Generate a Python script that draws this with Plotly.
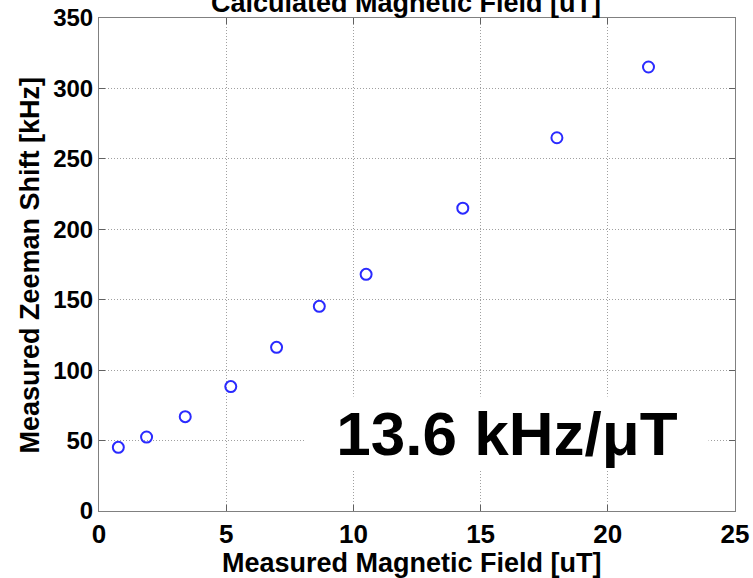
import plotly.graph_objects as go

# Data
field_uT = [0.76, 1.87, 3.39, 5.18, 6.98, 8.66, 10.5, 14.3, 18.0, 21.6]
zeeman_kHz = [45.2, 52.5, 67.0, 88.3, 116.2, 145.3, 168.0, 215.0, 265.0, 315.2]

x_ticks = [0, 5, 10, 15, 20, 25]
y_ticks = [0, 50, 100, 150, 200, 250, 300, 350]

title_text = "Calculated Magnetic Field [uT]"
x_title = "Measured Magnetic Field [uT]"
y_title = "Measured Zeeman Shift [kHz]"
slope_text = "13.6 kHz/μT"

FONT = "Arial, Liberation Sans, Helvetica, sans-serif"

fig = go.Figure()
fig.add_trace(go.Scatter(
    x=field_uT, y=zeeman_kHz, mode="markers",
    marker=dict(symbol="circle-open", size=11, color="#2a2aff",
                line=dict(width=2, color="#2a2aff")),
    showlegend=False, cliponaxis=False,
))

axis_common = dict(
    showline=True, linecolor="#808080", linewidth=1, mirror="ticks",
    ticks="inside", ticklen=6, tickcolor="#606060", tickwidth=1,
    showgrid=True, griddash="1px,2px", gridcolor="#a0a0a0", gridwidth=1,
    zeroline=False, automargin=False,
)

fig.update_xaxes(range=[0, 25], tickvals=x_ticks, ticktext=[str(v) for v in x_ticks],
                 tickfont=dict(family=FONT, size=26, color="black", weight="bold"),
                 **axis_common)
fig.update_yaxes(range=[0, 350], tickvals=y_ticks, ticktext=[str(v) for v in y_ticks],
                 tickfont=dict(family=FONT, size=24, color="black", weight="bold"),
                 **axis_common)

annotations = [
    dict(text=title_text, xref="paper", yref="paper", x=0.482, y=0.996,
         xanchor="center", yanchor="bottom", showarrow=False,
         font=dict(family=FONT, size=27, color="black", weight="bold")),
    dict(text=x_title, xref="paper", yref="paper", x=0.492, y=-0.1055,
         xanchor="center", yanchor="middle", showarrow=False,
         font=dict(family=FONT, size=27, color="black", weight="bold")),
    dict(text=y_title, xref="paper", yref="paper", x=-0.1085, y=0.50,
         xanchor="center", yanchor="middle", showarrow=False, textangle=-90,
         font=dict(family=FONT, size=27, color="black", weight="bold")),
    dict(text=slope_text, xref="paper", yref="paper", x=0.6415, y=0.158,
         xanchor="center", yanchor="middle", showarrow=False,
         bgcolor="white", width=400, height=70,
         font=dict(family=FONT, size=62, color="black", weight="bold")),
]

fig.update_layout(
    width=753, height=578,
    margin=dict(l=99, r=18, t=18, b=67, autoexpand=False),
    plot_bgcolor="white", paper_bgcolor="white",
    annotations=annotations,
    font=dict(family=FONT, color="black"),
)

fig.write_html("out.html")
